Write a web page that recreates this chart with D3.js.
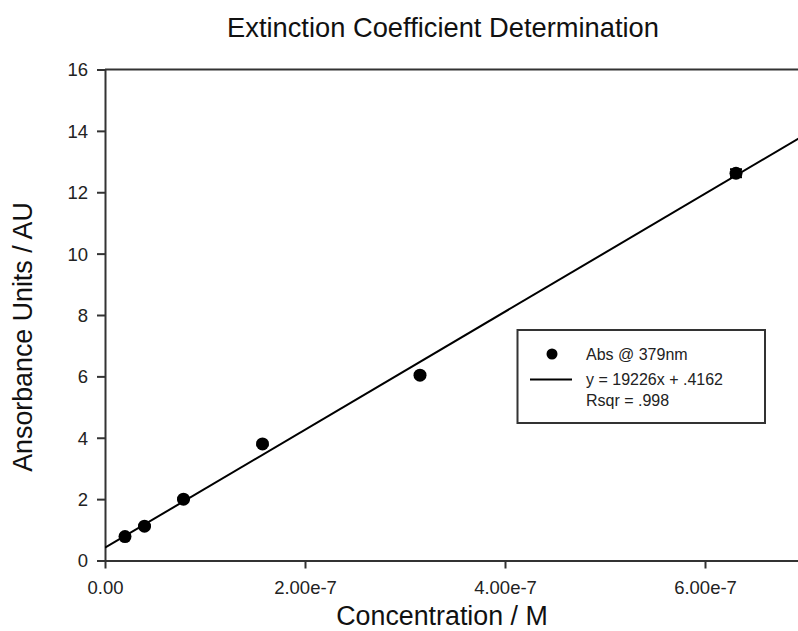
<!DOCTYPE html>
<html>
<head>
<meta charset="utf-8">
<script src="https://cdn.jsdelivr.net/npm/d3@7"></script>
<style>
  body { margin: 0; background: #fff; }
  svg { display: block; font-family: Arial, "Liberation Sans", sans-serif; }
</style>
</head>
<body>
<svg id="chart" width="798" height="631"></svg>
<script>
// ---- data ----
const concentrations = [2.0e-8, 3.95e-8, 7.85e-8, 1.575e-7, 3.15e-7, 6.31e-7];
const absorbance = [0.78, 1.12, 2.0, 3.80, 6.04, 12.62];
const errors = [0.03, 0.03, 0.03, 0.05, 0.05, 0.13];
const fitSlope = 1.9226e7; // AU per M (legend shows 19226 per mM)
const fitIntercept = 0.4162;
const xTicks = [0, 2e-7, 4e-7, 6e-7];
const xTickLabels = ["0.00", "2.00e-7", "4.00e-7", "6.00e-7"];
const yTicks = [0, 2, 4, 6, 8, 10, 12, 14, 16];
const legendLabels = ["Abs @ 379nm", "y = 19226x + .4162", "Rsqr = .998"];
const titleText = "Extinction Coefficient Determination";
const xTitle = "Concentration / M";
const yTitle = "Ansorbance Units / AU";

const svg = d3.select("#chart");
const x = d3.scaleLinear().domain([0, 7e-7]).range([105, 805]);
const y = d3.scaleLinear().domain([0, 16]).range([560.5, 69.5]);
const axisColor = "#333";

// frame top line
svg.append("line")
  .attr("x1", x(0)).attr("x2", x(7e-7))
  .attr("y1", y(16)).attr("y2", y(16))
  .attr("stroke", axisColor).attr("stroke-width", 2);

// axes
const xAxis = d3.axisBottom(x).tickValues(xTicks)
  .tickFormat((d, i) => xTickLabels[i]).tickSize(8).tickSizeOuter(0).tickPadding(12);
const gx = svg.append("g").attr("transform", `translate(0,${y(0)})`).call(xAxis);
const yAxis = d3.axisLeft(y).tickValues(yTicks).tickSize(8).tickSizeOuter(0).tickPadding(9);
const gy = svg.append("g").attr("transform", `translate(${x(0)},0)`).call(yAxis);
[gx, gy].forEach(g => {
  g.select(".domain").attr("stroke", axisColor).attr("stroke-width", 2);
  g.selectAll(".tick line").attr("stroke", axisColor).attr("stroke-width", 2);
  g.selectAll(".tick text").attr("fill", "#222").style("font-size", "18.5px")
    .style("font-family", "Arial, 'Liberation Sans', sans-serif");
});
gy.selectAll(".tick text").attr("dy", "0.35em");

// fit line
svg.append("clipPath").attr("id", "plotclip").append("rect")
  .attr("x", x(0)).attr("y", y(16)).attr("width", x(7e-7) - x(0)).attr("height", y(0) - y(16));
svg.append("line")
  .attr("clip-path", "url(#plotclip)")
  .attr("x1", x(0)).attr("y1", y(fitIntercept))
  .attr("x2", x(7e-7)).attr("y2", y(fitSlope * 7e-7 + fitIntercept))
  .attr("stroke", "#000").attr("stroke-width", 2);

// error bars
const eb = svg.append("g");
concentrations.forEach((c, i) => {
  const cx = x(c), y1 = y(absorbance[i] - errors[i]), y2 = y(absorbance[i] + errors[i]);
  eb.append("line").attr("x1", cx).attr("x2", cx).attr("y1", y1).attr("y2", y2)
    .attr("stroke", "#000").attr("stroke-width", 1.5);
  [y1, y2].forEach(yy => eb.append("line").attr("x1", cx - 6).attr("x2", cx + 6)
    .attr("y1", yy).attr("y2", yy).attr("stroke", "#000").attr("stroke-width", 2));
});

// points
svg.append("g").selectAll("circle").data(concentrations).join("circle")
  .attr("cx", d => x(d)).attr("cy", (d, i) => y(absorbance[i]))
  .attr("r", 6.5).attr("fill", "#000");

// legend
const lg = svg.append("g");
lg.append("rect").attr("x", 517.5).attr("y", 330).attr("width", 247.5).attr("height", 93)
  .attr("fill", "#fff").attr("stroke", axisColor).attr("stroke-width", 2);
lg.append("circle").attr("cx", 552).attr("cy", 354).attr("r", 5.5).attr("fill", "#000");
lg.append("line").attr("x1", 530).attr("x2", 572).attr("y1", 379.5).attr("y2", 379.5)
  .attr("stroke", "#000").attr("stroke-width", 2);
const baselines = [360, 384.5, 405.5];
legendLabels.forEach((t, i) => lg.append("text").attr("x", 586).attr("y", baselines[i])
  .attr("fill", "#222").style("font-size", "16px").text(t));

// titles
svg.append("text").attr("x", 443).attr("y", 36.5).attr("text-anchor", "middle")
  .attr("fill", "#111").style("font-size", "27.3px").text(titleText);
svg.append("text").attr("x", 442).attr("y", 624.5).attr("text-anchor", "middle")
  .attr("fill", "#111").style("font-size", "26.8px").text(xTitle);
svg.append("text").attr("transform", "translate(31.5,337) rotate(-90)").attr("text-anchor", "middle")
  .attr("fill", "#111").style("font-size", "26.8px").text(yTitle);
</script>
</body>
</html>
